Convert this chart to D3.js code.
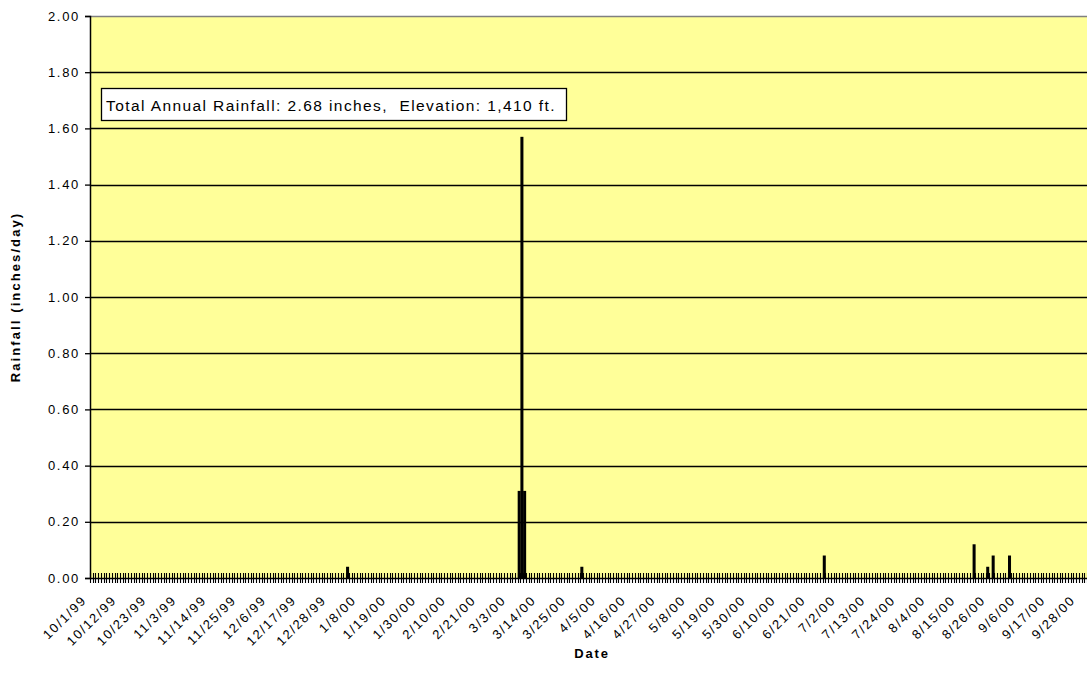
<!DOCTYPE html>
<html>
<head>
<meta charset="utf-8">
<script src="https://cdn.jsdelivr.net/npm/d3@7"></script>
<style>
  html, body { margin: 0; padding: 0; background: #ffffff; }
  svg { display: block; }
</style>
</head>
<body>
<svg id="chart" width="1087" height="681"></svg>
<script>
// ---- Data ----
const startDate = "10/1/99";
const endDate = "9/30/00";
const rainDates = ["1/3/00", "3/6/00", "3/7/00", "3/8/00", "3/29/00", "6/26/00", "8/20/00", "8/25/00", "8/27/00", "9/2/00"];
const rainValues = [0.04, 0.31, 1.57, 0.31, 0.04, 0.08, 0.12, 0.04, 0.08, 0.08];
const yTicks = [0, 0.2, 0.4, 0.6, 0.8, 1.0, 1.2, 1.4, 1.6, 1.8, 2.0];
const xTickLabels = ["10/1/99","10/12/99","10/23/99","11/3/99","11/14/99","11/25/99","12/6/99","12/17/99","12/28/99","1/8/00","1/19/00","1/30/00","2/10/00","2/21/00","3/3/00","3/14/00","3/25/00","4/5/00","4/16/00","4/27/00","5/8/00","5/19/00","5/30/00","6/10/00","6/21/00","7/2/00","7/13/00","7/24/00","8/4/00","8/15/00","8/26/00","9/6/00","9/17/00","9/28/00"];
const annotation = "Total Annual Rainfall: 2.68 inches,  Elevation: 1,410 ft.";
const xTitle = "Date";
const yTitle = "Rainfall (inches/day)";

// ---- Build categories ----
const parse = d3.timeParse("%-m/%-d/%y");
const fmt = d3.timeFormat("%-m/%-d/%y");
const days = d3.timeDay.range(parse(startDate), d3.timeDay.offset(parse(endDate), 1)).map(fmt);
const rainMap = new Map(rainDates.map((d, i) => [d, rainValues[i]]));
const series = days.map(d => ({ date: d, value: rainMap.get(d) || 0 }));

// ---- Layout ----
const pLeft = 90, pRight = 1087, pTop = 16, pBottom = 578;
const svg = d3.select("#chart");
const font = "'Liberation Sans', Arial, sans-serif";

const x = d3.scaleBand().domain(days).range([pLeft, pRight]).padding(0);
const y = d3.scaleLinear().domain([0, 2]).range([pBottom, pTop]);

// plot background
svg.append("rect").attr("x", pLeft).attr("y", pTop).attr("width", pRight - pLeft).attr("height", pBottom - pTop)
  .attr("fill", "#FFFF99");

// gridlines
svg.append("g").selectAll("line").data(yTicks.filter(v => v > 0 && v < 2)).join("line")
  .attr("x1", pLeft).attr("x2", pRight)
  .attr("y1", d => Math.round(y(d)) + 0.5).attr("y2", d => Math.round(y(d)) + 0.5)
  .attr("stroke", "#000").attr("stroke-width", 1.4);

// top border
svg.append("line").attr("x1", pLeft).attr("x2", pRight).attr("y1", pTop + 0.5).attr("y2", pTop + 0.5)
  .attr("stroke", "#808080").attr("stroke-width", 1.3);

// bars
svg.append("g").selectAll("rect").data(series.filter(d => d.value > 0)).join("rect")
  .attr("x", d => x(d.date))
  .attr("width", x.bandwidth() + 0.3)
  .attr("y", d => y(d.value))
  .attr("height", d => y(0) - y(d.value))
  .attr("fill", "#000");

// y axis
const yAxis = d3.axisLeft(y).tickValues(yTicks).tickFormat(d3.format(".2f")).tickSize(5).tickPadding(5);
const gy = svg.append("g").attr("transform", `translate(${pLeft},0)`).call(yAxis);
gy.select(".domain").attr("stroke", "#000").attr("stroke-width", 1.5);
gy.selectAll(".tick line").attr("stroke", "#000").attr("stroke-width", 1.3);
gy.selectAll("text").attr("font-family", font).attr("font-size", 13).attr("fill", "#000")
  .style("letter-spacing", "1.7px");

// x axis: baseline, cross ticks at category boundaries
const gx = svg.append("g");
gx.append("line").attr("x1", pLeft).attr("x2", pRight).attr("y1", pBottom + 0.5).attr("y2", pBottom + 0.5)
  .attr("stroke", "#000").attr("stroke-width", 1.6);
const boundaries = days.map(d => x(d)).concat([pRight]);
gx.selectAll("line.tk").data(boundaries).join("line").attr("class", "tk")
  .attr("x1", d => Math.round(d) + 0.5).attr("x2", d => Math.round(d) + 0.5)
  .attr("y1", pBottom - 5).attr("y2", pBottom + 5)
  .attr("stroke", "#000").attr("stroke-width", 1.1);

// x labels
const labelSet = new Set(xTickLabels);
gx.selectAll("text").data(days.filter(d => labelSet.has(d))).join("text")
  .attr("transform", d => `translate(${x(d) + x.bandwidth() / 2 - 4},${pBottom + 23}) rotate(-45)`)
  .attr("text-anchor", "end")
  .attr("font-family", font).attr("font-size", 13).attr("fill", "#000")
  .style("letter-spacing", "1.7px")
  .text(d => d);

// axis titles
svg.append("text").attr("x", 592).attr("y", 658).attr("text-anchor", "middle")
  .attr("font-family", font).attr("font-size", 13).attr("font-weight", "bold")
  .style("letter-spacing", "1.8px").text(xTitle);
svg.append("text").attr("transform", `translate(20,${(pTop + pBottom) / 2}) rotate(-90)`)
  .attr("text-anchor", "middle")
  .attr("font-family", font).attr("font-size", 13).attr("font-weight", "bold")
  .style("letter-spacing", "2.1px").text(yTitle);

// annotation box
const ag = svg.append("g");
ag.append("rect").attr("x", 101.5).attr("y", 88.5).attr("width", 465).attr("height", 32)
  .attr("fill", "#fff").attr("stroke", "#000").attr("stroke-width", 1.3);
const at = ag.append("text").attr("x", 106).attr("y", 111)
  .attr("font-family", font).attr("font-size", 15.5).attr("fill", "#000")
  .style("white-space", "pre")
  .text(annotation);
const natural = at.node().getComputedTextLength();
const n = annotation.length;
at.style("letter-spacing", ((450 - natural) / n) + "px");
</script>
</body>
</html>
